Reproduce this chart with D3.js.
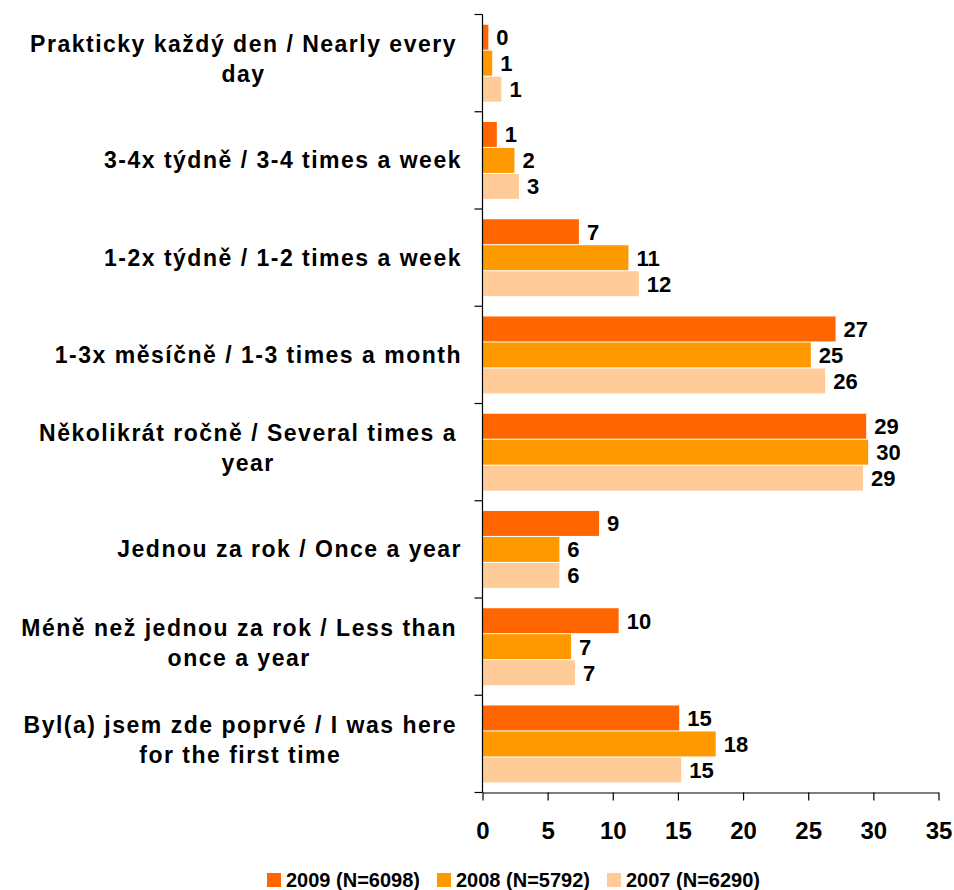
<!DOCTYPE html>
<html>
<head>
<meta charset="utf-8">
<script src="https://cdn.jsdelivr.net/npm/d3@7"></script>
<style>
  html, body { margin: 0; padding: 0; background: #fff; }
  svg { display: block; font-family: "Liberation Sans", Arial, sans-serif; font-weight: bold; }
</style>
</head>
<body>
<svg id="chart" width="954" height="890"></svg>
<script>
// ---- data ----
const categories = [
  "Prakticky každý den / Nearly every\nday",
  "3-4x týdně / 3-4 times a week",
  "1-2x týdně / 1-2 times a week",
  "1-3x měsíčně / 1-3 times a month",
  "Několikrát ročně / Several times a\nyear",
  "Jednou za rok / Once a year",
  "Méně než jednou za rok / Less than\nonce a year",
  "Byl(a) jsem zde poprvé / I was here\nfor the first time"
];
const seriesNames = ["2009 (N=6098)", "2008 (N=5792)", "2007 (N=6290)"];
const values2009 = [0.45, 1.1, 7.4, 27.1, 29.45, 8.95, 10.45, 15.1];
const values2008 = [0.75, 2.45, 11.2, 25.2, 29.6, 5.9, 6.8, 17.9];
const values2007 = [1.45, 2.8, 12.0, 26.3, 29.2, 5.9, 7.1, 15.25];
const xTicks = [0, 5, 10, 15, 20, 25, 30, 35];
const colors = ["#FF6600", "#FF9900", "#FFCC99"];

const seriesValues = [values2009, values2008, values2007];

const svg = d3.select("#chart");

const x0 = 482.5, x1 = 938.5, yTop = 14.5, yBot = 792.5;
const x = d3.scaleLinear().domain([0, 35]).range([x0, x1]);
const y = d3.scaleBand().domain(d3.range(categories.length)).range([yTop, yBot]).paddingInner(0).paddingOuter(0);
const ySub = d3.scaleBand().domain(d3.range(seriesNames.length)).range([9.7, 87.7]).paddingInner(0.04).paddingOuter(0.02);

// bars
const groups = svg.append("g").selectAll("g")
  .data(categories.map((c, i) => i))
  .join("g")
  .attr("transform", i => `translate(0,${y(i)})`);

groups.selectAll("rect")
  .data(i => seriesValues.map((vals, s) => ({ s, v: vals[i] })))
  .join("rect")
  .attr("x", x(0))
  .attr("y", d => ySub(d.s))
  .attr("width", d => x(d.v) - x(0))
  .attr("height", ySub.bandwidth())
  .attr("fill", d => colors[d.s]);

groups.selectAll("text")
  .data(i => seriesValues.map((vals, s) => ({ s, v: vals[i] })))
  .join("text")
  .attr("x", d => x(d.v) + 8)
  .attr("y", d => ySub(d.s) + ySub.bandwidth() / 2)
  .attr("dy", "0.36em")
  .attr("font-size", 22)
  .attr("fill", "#000")
  .text(d => Math.round(d.v));

// y axis line with boundary ticks
const axisG = svg.append("g").attr("stroke", "#000").attr("stroke-width", 1.2);
axisG.append("line").attr("x1", x0).attr("x2", x0).attr("y1", yTop).attr("y2", yBot);
const boundaries = d3.range(categories.length + 1).map(i => i === categories.length ? yBot : y(i));
axisG.selectAll("line.yt").data(boundaries).join("line").attr("class", "yt")
  .attr("x1", x0 - 8).attr("x2", x0).attr("y1", d => d).attr("y2", d => d);

// x axis
const xAxis = d3.axisBottom(x).tickValues(xTicks).tickSize(8).tickSizeOuter(0).tickPadding(10);
const xg = svg.append("g").attr("transform", `translate(0,${yBot})`).call(xAxis);
xg.select(".domain").attr("stroke", "#000").attr("stroke-width", 1.2);
xg.selectAll(".tick line").attr("stroke", "#000").attr("stroke-width", 1.2);
xg.selectAll(".tick text")
  .attr("font-size", 24)
  .attr("font-family", "Liberation Sans, Arial, sans-serif")
  .attr("font-weight", "bold")
  .attr("fill", "#000")
  .attr("dy", "0")
  .attr("y", 46);

// category labels
const labelRight = 462;
categories.forEach((c, i) => {
  const lines = c.split("\n");
  const cy = y(i) + y.bandwidth() / 2;
  const t = svg.append("text")
    .attr("font-size", 23)
    .attr("letter-spacing", "1.5px")
    .attr("fill", "#000");
  const n = lines.length;
  const spans = lines.map((ln, k) => {
    const base = n === 1 ? cy + 8 : cy - 11 + k * 30;
    return t.append("tspan").attr("y", base).attr("text-anchor", "middle").text(ln);
  });
  const widths = spans.map(s => s.node().getComputedTextLength());
  const maxW = d3.max(widths);
  const cx = (n === 1 ? labelRight : labelRight - 5) - maxW / 2;
  spans.forEach(s => s.attr("x", cx));
});

// legend
const legend = svg.append("g");
seriesNames.forEach((name, s) => {
  const lx = 267 + s * 170;
  legend.append("rect").attr("x", lx).attr("y", 873).attr("width", 14).attr("height", 14).attr("fill", colors[s]);
  legend.append("text").attr("x", lx + 19).attr("y", 887)
    .attr("font-size", 20).attr("fill", "#000").text(name);
});
</script>
</body>
</html>
